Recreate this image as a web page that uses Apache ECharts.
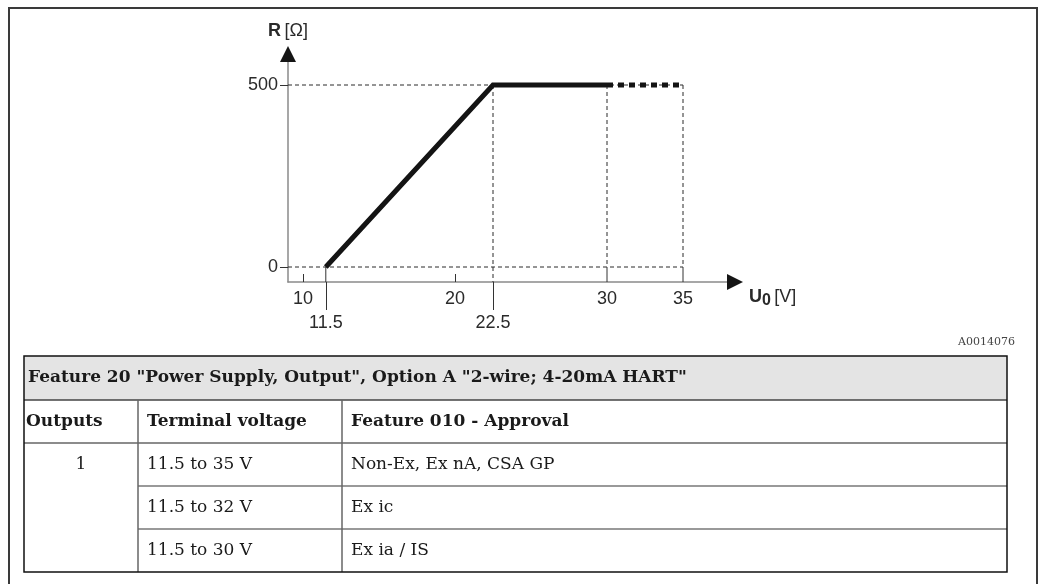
<!DOCTYPE html>
<html>
<head>
<meta charset="utf-8">
<script src="https://cdn.jsdelivr.net/npm/echarts@6/dist/echarts.min.js"></script>
<style>
  html, body { margin: 0; padding: 0; background: #fff; }
  #chart { width: 1038px; height: 584px; }
</style>
</head>
<body>
<div id="chart"></div>
<script>
// Load curve: permissible load resistance R versus supply voltage U0
const curveU = [11.5, 22.5, 30];
const curveR = [0, 500, 500];
const extendedU = [30, 35];
const extendedR = [500, 500];

// Axis ticks and reference lines
const voltageTicks = [10, 20, 30, 35];
const breakpointTicks = [11.5, 22.5];
const resistanceTicks = [0, 500];
const guideLevels = [0, 500];
const guideVerticals = [22.5, 30, 35];
const dropVerticals = [11.5, 30, 35];

// Visible extent of the axes (arrow tips sit at the far ends)
const uMin = 9.013, uMax = 38.42;
const rMin = -41.2, rMax = 585.2;

// Table contents
const tableTitle = 'Feature 20 "Power Supply, Output", Option A "2-wire; 4-20mA HART"';
const columnHeads = ['Outputs', 'Terminal voltage', 'Feature 010 - Approval'];
const outputsCount = ['1'];
const terminalVoltages = ['11.5 to 35 V', '11.5 to 32 V', '11.5 to 30 V'];
const approvals = ['Non-Ex, Ex nA, CSA GP', 'Ex ic', 'Ex ia / IS'];
const figureId = 'A0014076';

const SANS = '"Liberation Sans", Arial, sans-serif';
const SERIF = '"DejaVu Serif", serif';
const dashColor = '#2a2a2a';

const chart = echarts.init(document.getElementById('chart'), null, { renderer: 'canvas' });

const zip = (a, b) => a.map((v, i) => [v, b[i]]);

const series = [];
// horizontal dashed guides
guideLevels.forEach(r => series.push({
  type: 'line', xAxisIndex: 0, yAxisIndex: 0, symbol: 'none', silent: true, z: 1,
  data: [[uMin, r], [35, r]],
  lineStyle: { color: dashColor, width: 1, type: [4, 3] }
}));
// vertical dashed guides
guideVerticals.forEach(u => series.push({
  type: 'line', xAxisIndex: 0, yAxisIndex: 0, symbol: 'none', silent: true, z: 1,
  data: [[u, 500], [u, u === 22.5 ? rMin : 0]],
  lineStyle: { color: dashColor, width: 1, type: [4, 3] }
}));
// solid drops to the voltage axis
dropVerticals.forEach(u => series.push({
  type: 'line', xAxisIndex: 0, yAxisIndex: 0, symbol: 'none', silent: true, z: 1,
  data: [[u, 0], [u, rMin]],
  lineStyle: { color: '#333', width: 1 }
}));
// load curve
series.push({
  type: 'line', xAxisIndex: 0, yAxisIndex: 0, symbol: 'none', z: 5,
  data: zip(curveU, curveR),
  lineStyle: { color: '#141414', width: 5, cap: 'butt', join: 'miter' }
});
// extended range (dotted)
series.push({
  type: 'line', xAxisIndex: 0, yAxisIndex: 0, symbol: 'none', z: 5,
  data: zip(extendedU, extendedR),
  lineStyle: { color: '#141414', width: 5, type: [6, 5], cap: 'butt' }
});
// axis arrow heads
series.push({
  type: 'scatter', xAxisIndex: 0, yAxisIndex: 0, clip: false, silent: true, z: 6,
  symbol: 'triangle', symbolSize: [16, 16],
  itemStyle: { color: '#151515', opacity: 1 },
  data: [[uMin, rMax]]
});
series.push({
  type: 'scatter', xAxisIndex: 0, yAxisIndex: 0, clip: false, silent: true, z: 6,
  symbol: 'triangle', symbolSize: [16, 16], symbolRotate: -90,
  itemStyle: { color: '#151515', opacity: 1 },
  data: [[uMax, rMin]]
});

// table drawing
const T = { left: 24, right: 1007, top: 356, head: 400, cols: 443, bottom: 572, c1: 138, c2: 342 };
const rowH = (T.bottom - T.cols) / terminalVoltages.length;
const graphics = [];
// outer frame
graphics.push({ type: 'rect', shape: { x: 9, y: 8, width: 1028, height: 620 },
  style: { fill: 'none', stroke: '#3a3a3a', lineWidth: 2 }, z: 0 });
// header band
graphics.push({ type: 'rect', shape: { x: T.left, y: T.top, width: T.right - T.left, height: T.head - T.top },
  style: { fill: '#e4e4e4' }, z: 1 });
const hline = (y, x1, x2, color, w) => graphics.push({ type: 'line',
  shape: { x1, y1: y, x2, y2: y }, style: { stroke: color, lineWidth: w }, z: 2 });
const vline = (x, y1, y2, color, w) => graphics.push({ type: 'line',
  shape: { x1: x, y1, x2: x, y2 }, style: { stroke: color, lineWidth: w }, z: 2 });
hline(T.head, T.left, T.right, '#444', 1.5);
hline(T.cols, T.left, T.right, '#666', 1.5);
for (let i = 1; i < terminalVoltages.length; i++) hline(T.cols + rowH * i, T.c1, T.right, '#777', 1.5);
vline(T.c1, T.head, T.bottom, '#666', 1.5);
vline(T.c2, T.head, T.bottom, '#666', 1.5);
graphics.push({ type: 'rect', shape: { x: T.left, y: T.top, width: T.right - T.left, height: T.bottom - T.top },
  style: { fill: 'none', stroke: '#111', lineWidth: 1.5 }, z: 3 });

const txt = (text, x, y, bold, align) => graphics.push({ type: 'text', x, y, z: 4,
  style: { text, fill: '#1a1a1a', font: (bold ? 'bold 17px ' : '17px ') + SERIF,
    textAlign: align || 'left', textVerticalAlign: 'middle' } });
txt(tableTitle, 28, (T.top + T.head) / 2, true);
const colX = [T.left + 2, T.c1 + 9, T.c2 + 9];
columnHeads.forEach((h, i) => txt(h, colX[i], (T.head + T.cols) / 2, true));
outputsCount.forEach((v, i) => txt(v, (T.left + T.c1) / 2, T.cols + rowH * (i + 0.5), false, 'center'));
terminalVoltages.forEach((v, i) => txt(v, colX[1], T.cols + rowH * (i + 0.5), false));
approvals.forEach((v, i) => txt(v, colX[2], T.cols + rowH * (i + 0.5), false));
graphics.push({ type: 'text', x: 1015, y: 342, z: 4,
  style: { text: figureId, fill: '#444', font: '11px ' + SERIF, textAlign: 'right', textVerticalAlign: 'middle' } });

chart.setOption({
  animation: false,
  backgroundColor: '#fff',
  grid: { left: 288, top: 54, right: 303, bottom: 302 },
  xAxis: [{
    type: 'value', min: uMin, max: uMax, position: 'bottom',
    splitLine: { show: false },
    axisLine: { show: true, onZero: false, lineStyle: { color: '#8a8a8a', width: 1.5 } },
    axisTick: { show: true, inside: true, length: 8, customValues: [10, 20], lineStyle: { color: '#333', width: 1 } },
    axisLabel: { customValues: voltageTicks, margin: 8, color: '#2a2a2a', fontSize: 18, fontFamily: SANS },
    name: '{b|U}{s|0} {n|[V]}',
    nameLocation: 'end', nameGap: 14,
    nameTextStyle: {
      verticalAlign: 'top', padding: [6, 0, 0, 0],
      rich: {
        b: { fontWeight: 'bold', fontSize: 18, fontFamily: SANS, color: '#2a2a2a', verticalAlign: 'top' },
        s: { fontWeight: 'bold', fontSize: 16, fontFamily: SANS, color: '#2a2a2a', verticalAlign: 'top', padding: [5, 0, 0, 0] },
        n: { fontSize: 18, fontFamily: SANS, color: '#2a2a2a', verticalAlign: 'top' }
      }
    }
  }, {
    type: 'value', min: uMin, max: uMax, position: 'bottom',
    splitLine: { show: false },
    axisLine: { show: false, onZero: false },
    axisTick: { show: true, length: 28, customValues: breakpointTicks, lineStyle: { color: '#333', width: 1 } },
    axisLabel: { customValues: breakpointTicks, margin: 32, color: '#2a2a2a', fontSize: 18, fontFamily: SANS }
  }],
  yAxis: {
    type: 'value', min: rMin, max: rMax,
    splitLine: { show: false },
    axisLine: { show: true, onZero: false, lineStyle: { color: '#8a8a8a', width: 1.5 } },
    axisTick: { show: true, length: 8, customValues: resistanceTicks, lineStyle: { color: '#333', width: 1 } },
    axisLabel: { customValues: resistanceTicks, margin: 10, color: '#2a2a2a', fontSize: 18, fontFamily: SANS },
    name: '{b|R} {n|[Ω]}',
    nameLocation: 'end', nameGap: 14,
    nameTextStyle: {
      rich: {
        b: { fontWeight: 'bold', fontSize: 18, fontFamily: SANS, color: '#2a2a2a' },
        n: { fontSize: 18, fontFamily: SANS, color: '#2a2a2a' }
      }
    }
  },
  series,
  graphic: graphics
});
</script>
</body>
</html>
